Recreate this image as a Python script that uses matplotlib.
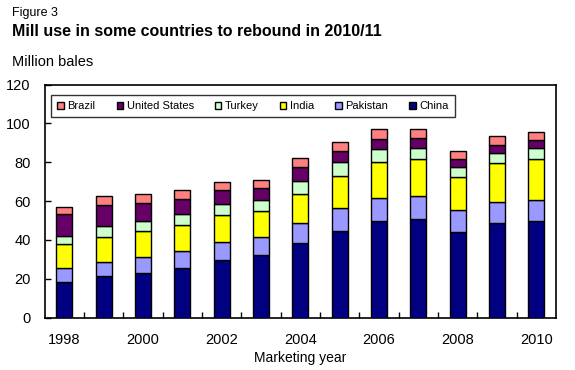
import matplotlib
matplotlib.use("Agg")
import matplotlib.pyplot as plt
from matplotlib.patches import Patch
import numpy as np

plt.rcParams['font.family'] = ['Liberation Sans', 'DejaVu Sans']

years = list(range(1998, 2011))
tick_labels = ['1998', '2000', '2002', '2004', '2006', '2008', '2010']
china = [18.2, 21.5, 23.2, 25.7, 29.7, 32.1, 38.6, 44.6, 49.8, 51.0, 44.0, 48.9, 49.8]
pakistan = [7.2, 7.3, 8.0, 8.6, 9.3, 9.3, 10.3, 11.7, 12.0, 11.5, 11.3, 10.6, 10.8]
india = [12.7, 12.9, 13.6, 13.3, 13.7, 13.7, 14.8, 16.8, 18.2, 19.0, 17.3, 20.0, 20.9]
turkey = [4.1, 5.7, 5.0, 5.9, 5.8, 5.5, 6.7, 6.9, 6.8, 6.0, 5.0, 5.4, 5.8]
united_states = [11.0, 10.8, 9.1, 7.7, 7.2, 6.2, 7.3, 5.6, 5.2, 4.8, 3.9, 4.1, 4.2]
brazil = [3.8, 4.6, 4.6, 4.5, 4.0, 4.2, 4.3, 4.7, 5.0, 4.7, 4.3, 4.5, 4.2]

series = [
    ('China', china, '#000080'),
    ('Pakistan', pakistan, '#9999FF'),
    ('India', india, '#FFFF00'),
    ('Turkey', turkey, '#CCFFCC'),
    ('United States', united_states, '#660066'),
    ('Brazil', brazil, '#FF8080'),
]

W, H = 575, 370
fig = plt.figure(figsize=(W / 100, H / 100), dpi=100)
ax = fig.add_axes([44.7 / W, 1 - 317.7 / H, (556 - 44.7) / W, (317.7 - 84.5) / H])

x = np.arange(len(years))
bottom = np.zeros(len(years))
for name, vals, col in series:
    v = np.array(vals)
    ax.bar(x, v, bottom=bottom, width=0.41, color=col, edgecolor='black', linewidth=1.0, label=name, zorder=3)
    bottom += v

ax.set_xlim(-0.5, len(years) - 0.5)
ax.set_ylim(0, 120)
ax.set_yticks(range(0, 121, 20))
ax.tick_params(axis='y', direction='in', length=4, width=1, labelsize=10.5, pad=10, colors='black')

major_pos = [years.index(int(t)) for t in tick_labels]
ax.set_xticks(major_pos)
ax.set_xticklabels(tick_labels)
ax.tick_params(axis='x', which='major', length=0, labelsize=10.5, pad=11)
ax.set_xticks(np.arange(0.5, len(years) - 0.5, 1.0), minor=True)
ax.tick_params(axis='x', which='minor', direction='in', length=4, width=1)

for s in ax.spines.values():
    s.set_linewidth(1.2)
    s.set_color('black')

ax.set_xlabel('Marketing year', fontsize=10, labelpad=3)

fig.text(12 / W, 1 - 13 / H, 'Figure 3', fontsize=9, va='center', ha='left')
fig.text(12 / W, 1 - 31 / H, 'Mill use in some countries to rebound in 2010/11', fontsize=11.5, fontweight='bold', va='center', ha='left')
fig.text(12 / W, 1 - 62 / H, 'Million bales', fontsize=10.5, va='center', ha='left')

handles = [Patch(facecolor=col, edgecolor='black', linewidth=1.0, label=name) for name, vals, col in reversed(series)]
leg = fig.legend(handles=handles, loc='center', ncol=6,
                 bbox_to_anchor=(253 / W, 1 - 106 / H),
                 fontsize=8, frameon=True, fancybox=False, edgecolor='black',
                 handlelength=0.6, handleheight=0.6, handletextpad=0.3, columnspacing=1.9,
                 borderaxespad=0, borderpad=0.55)
leg.get_frame().set_linewidth(1.0)

fig.savefig('out.png', dpi=100)
